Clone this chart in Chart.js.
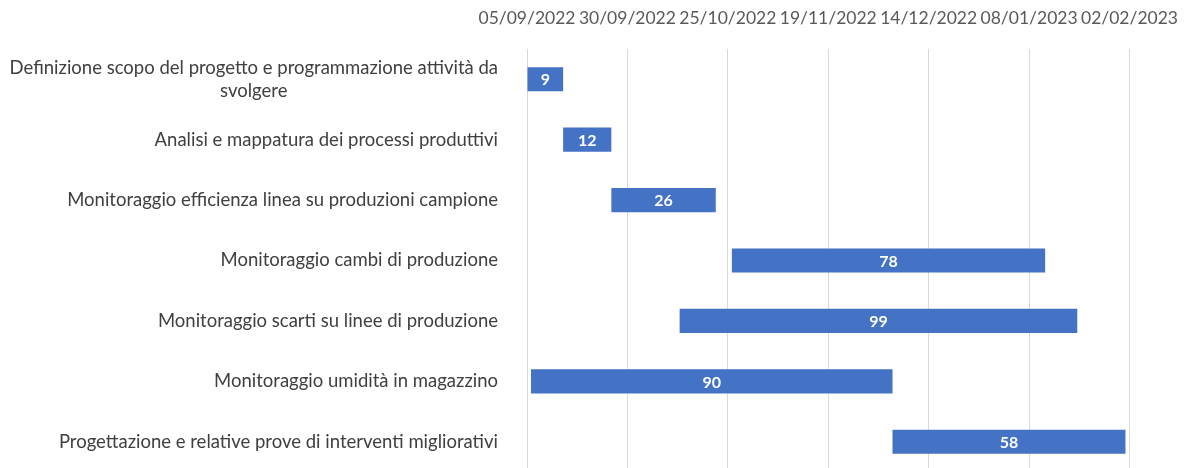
<!DOCTYPE html>
<html>
<head>
<meta charset="utf-8">
<script src="https://cdn.jsdelivr.net/npm/chart.js@4.4.1/dist/chart.umd.min.js"></script>
<style>
  html, body {
    margin: 0;
    padding: 0;
    background: #fff;
    overflow: hidden;
  }
  #wrap {
    position: relative;
    width: 1198px;
    height: 492px;
    margin-top: -20px;
  }
</style>
</head>
<body>
<div id="wrap"><canvas id="gantt"></canvas></div>
<script>
// activities, one row each (wrapped lines as arrays)
const activities = [
  ['Definizione scopo del progetto e programmazione attività da', 'svolgere'],
  ['Analisi e mappatura dei processi produttivi'],
  ['Monitoraggio efficienza linea su produzioni campione'],
  ['Monitoraggio cambi di produzione'],
  ['Monitoraggio scarti su linee di produzione'],
  ['Monitoraggio umidità in magazzino'],
  ['Progettazione e relative prove di interventi migliorativi'],
];
// start date of each activity (dd/mm/yyyy)
const startDates = ['05/09/2022', '14/09/2022', '26/09/2022', '26/10/2022', '13/10/2022', '06/09/2022', '05/12/2022'];
// duration in days
const durations = [9, 12, 26, 78, 99, 90, 58];

// axis range and step, in days
const axisStart = '05/09/2022';
const axisEnd = '02/02/2023';
const axisStep = 25;

const DAY = 86400000;

function parseDate(s) {
  const [d, m, y] = s.split('/').map(Number);
  return Date.UTC(y, m - 1, d);
}

function formatDate(t) {
  const dt = new Date(t);
  const dd = String(dt.getUTCDate()).padStart(2, '0');
  const mm = String(dt.getUTCMonth() + 1).padStart(2, '0');
  return `${dd}/${mm}/${dt.getUTCFullYear()}`;
}

const origin = parseDate(axisStart);
const dayOffset = s => (parseDate(s) - origin) / DAY;

const bars = startDates.map((s, i) => [dayOffset(s), dayOffset(s) + durations[i]]);

const FONT = 'Lato, "Open Sans", sans-serif';

// category labels: block right aligned, wrapped lines centered inside it
const rowLabels = {
  id: 'rowLabels',
  afterDraw(chart) {
    const { ctx } = chart;
    const yScale = chart.scales.y;
    const right = 498;
    const lineH = 23;
    ctx.save();
    ctx.font = `18.5px ${FONT}`;
    ctx.fillStyle = '#404040';
    ctx.textAlign = 'center';
    ctx.textBaseline = 'middle';
    activities.forEach((lines, i) => {
      const widest = Math.max(...lines.map(l => ctx.measureText(l).width));
      const cx = right - widest / 2;
      const cy = yScale.getPixelForValue(i);
      const top = cy - (lines.length - 1) * lineH / 2;
      lines.forEach((l, j) => ctx.fillText(l, cx, top + j * lineH));
    });
    ctx.restore();
  },
};

// duration written in the middle of each bar
const durationLabels = {
  id: 'durationLabels',
  afterDatasetsDraw(chart) {
    const { ctx } = chart;
    const meta = chart.getDatasetMeta(0);
    ctx.save();
    ctx.font = `bold 16px ${FONT}`;
    ctx.fillStyle = '#ffffff';
    ctx.textAlign = 'center';
    ctx.textBaseline = 'middle';
    meta.data.forEach((bar, i) => {
      ctx.fillText(String(durations[i]), (bar.x + bar.base) / 2, bar.y + 1);
    });
    ctx.restore();
  },
};

new Chart(document.getElementById('gantt'), {
  type: 'bar',
  data: {
    labels: activities.map(a => a.join(' ')),
    datasets: [
      {
        data: bars,
        backgroundColor: '#4472C4',
        borderWidth: 0,
        borderSkipped: false,
        categoryPercentage: 1,
        barPercentage: 0.4,
      },
    ],
  },
  options: {
    indexAxis: 'y',
    responsive: true,
    maintainAspectRatio: false,
    animation: false,
    layout: {
      padding: { left: 527, right: 60, top: 8, bottom: 0 },
    },
    plugins: {
      legend: { display: false },
      tooltip: { enabled: false },
    },
    scales: {
      x: {
        type: 'linear',
        position: 'top',
        min: 0,
        max: dayOffset(axisEnd),
        grid: {
          color: '#d9d9d9',
          lineWidth: 1,
          drawTicks: false,
        },
        border: { display: false },
        ticks: {
          stepSize: axisStep,
          padding: 20,
          color: '#595959',
          font: { family: FONT, size: 17.5 },
          maxRotation: 0,
          autoSkip: false,
          callback: v => formatDate(origin + v * DAY),
        },
      },
      y: {
        type: 'category',
        display: false,
        grid: { display: false },
      },
    },
  },
  plugins: [rowLabels, durationLabels],
});
</script>
</body>
</html>
